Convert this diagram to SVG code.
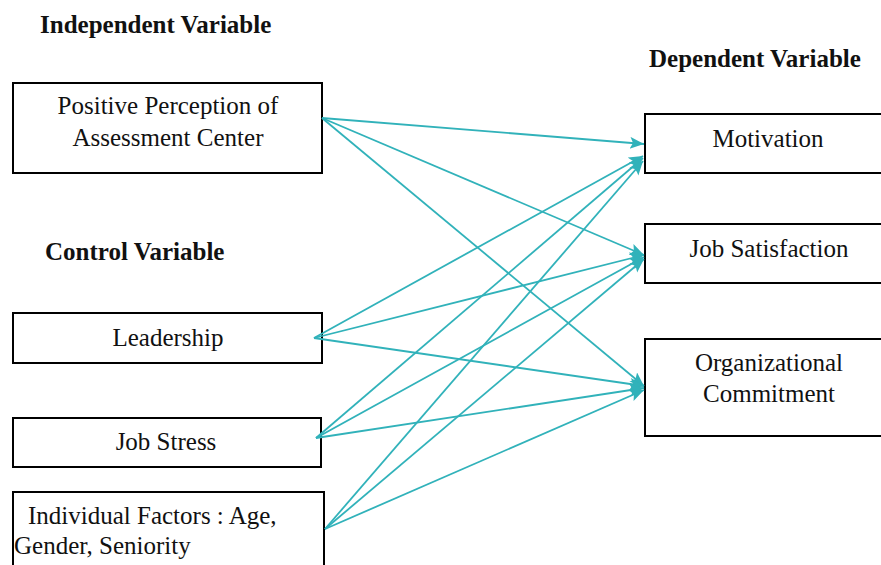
<svg xmlns="http://www.w3.org/2000/svg" width="881" height="565" viewBox="0 0 881 565">
<style>
text{font-family:"Liberation Serif","Times New Roman","DejaVu Serif",serif;font-size:25px;fill:#111}
.h{font-weight:bold}
.c{text-anchor:middle}
.box{fill:#fff;stroke:#000;stroke-width:2}
.ln{stroke:#31B2BA;stroke-width:1.8;fill:none;marker-end:url(#ah)}
</style>
<defs>
<marker id="ah" markerUnits="userSpaceOnUse" markerWidth="16" markerHeight="14" refX="14" refY="6" orient="auto">
<path d="M0,0 L14,6 L0,12 L3,6 Z" fill="#31B2BA"/>
</marker>
</defs>
<rect width="881" height="565" fill="#fff"/>
<text class="h" x="40" y="33">Independent Variable</text>
<text class="h" x="649" y="67">Dependent Variable</text>
<text class="h" x="45" y="260">Control Variable</text>
<g id="n-ppac"><rect class="box" x="13" y="83" width="309" height="90"/><text class="c" x="168" y="114">Positive Perception of</text><text class="c" x="168" y="146">Assessment Center</text></g>
<g id="n-lead"><rect class="box" x="13" y="313" width="309" height="50"/><text class="c" x="168" y="346">Leadership</text></g>
<g id="n-stress"><rect class="box" x="13" y="418" width="308" height="49"/><text class="c" x="166" y="450">Job Stress</text></g>
<g id="n-indiv"><rect class="box" x="13" y="492" width="311" height="80"/><text x="28" y="524">Individual Factors : Age,</text><text x="14" y="554">Gender, Seniority</text></g>
<g id="n-mot"><rect class="box" x="645" y="114" width="240" height="59"/><text class="c" x="768" y="147">Motivation</text></g>
<g id="n-js"><rect class="box" x="645" y="224" width="240" height="59"/><text class="c" x="769" y="257">Job Satisfaction</text></g>
<g id="n-oc"><rect class="box" x="645" y="339" width="240" height="97"/><text class="c" x="769" y="371">Organizational</text><text class="c" x="769" y="402">Commitment</text></g>
<g id="connectors">
<line class="ln" x1="322" y1="118" x2="644" y2="144"/>
<line class="ln" x1="322" y1="118" x2="644" y2="255"/>
<line class="ln" x1="322" y1="118" x2="644" y2="386"/>
<line class="ln" x1="314" y1="338" x2="643" y2="156"/>
<line class="ln" x1="314" y1="338" x2="644" y2="255"/>
<line class="ln" x1="314" y1="338" x2="644" y2="386"/>
<line class="ln" x1="316" y1="438" x2="643" y2="158"/>
<line class="ln" x1="316" y1="438" x2="644" y2="257"/>
<line class="ln" x1="316" y1="438" x2="644" y2="388"/>
<line class="ln" x1="325" y1="529" x2="643" y2="161"/>
<line class="ln" x1="325" y1="529" x2="644" y2="259"/>
<line class="ln" x1="325" y1="529" x2="644" y2="390"/>
</g>
</svg>
